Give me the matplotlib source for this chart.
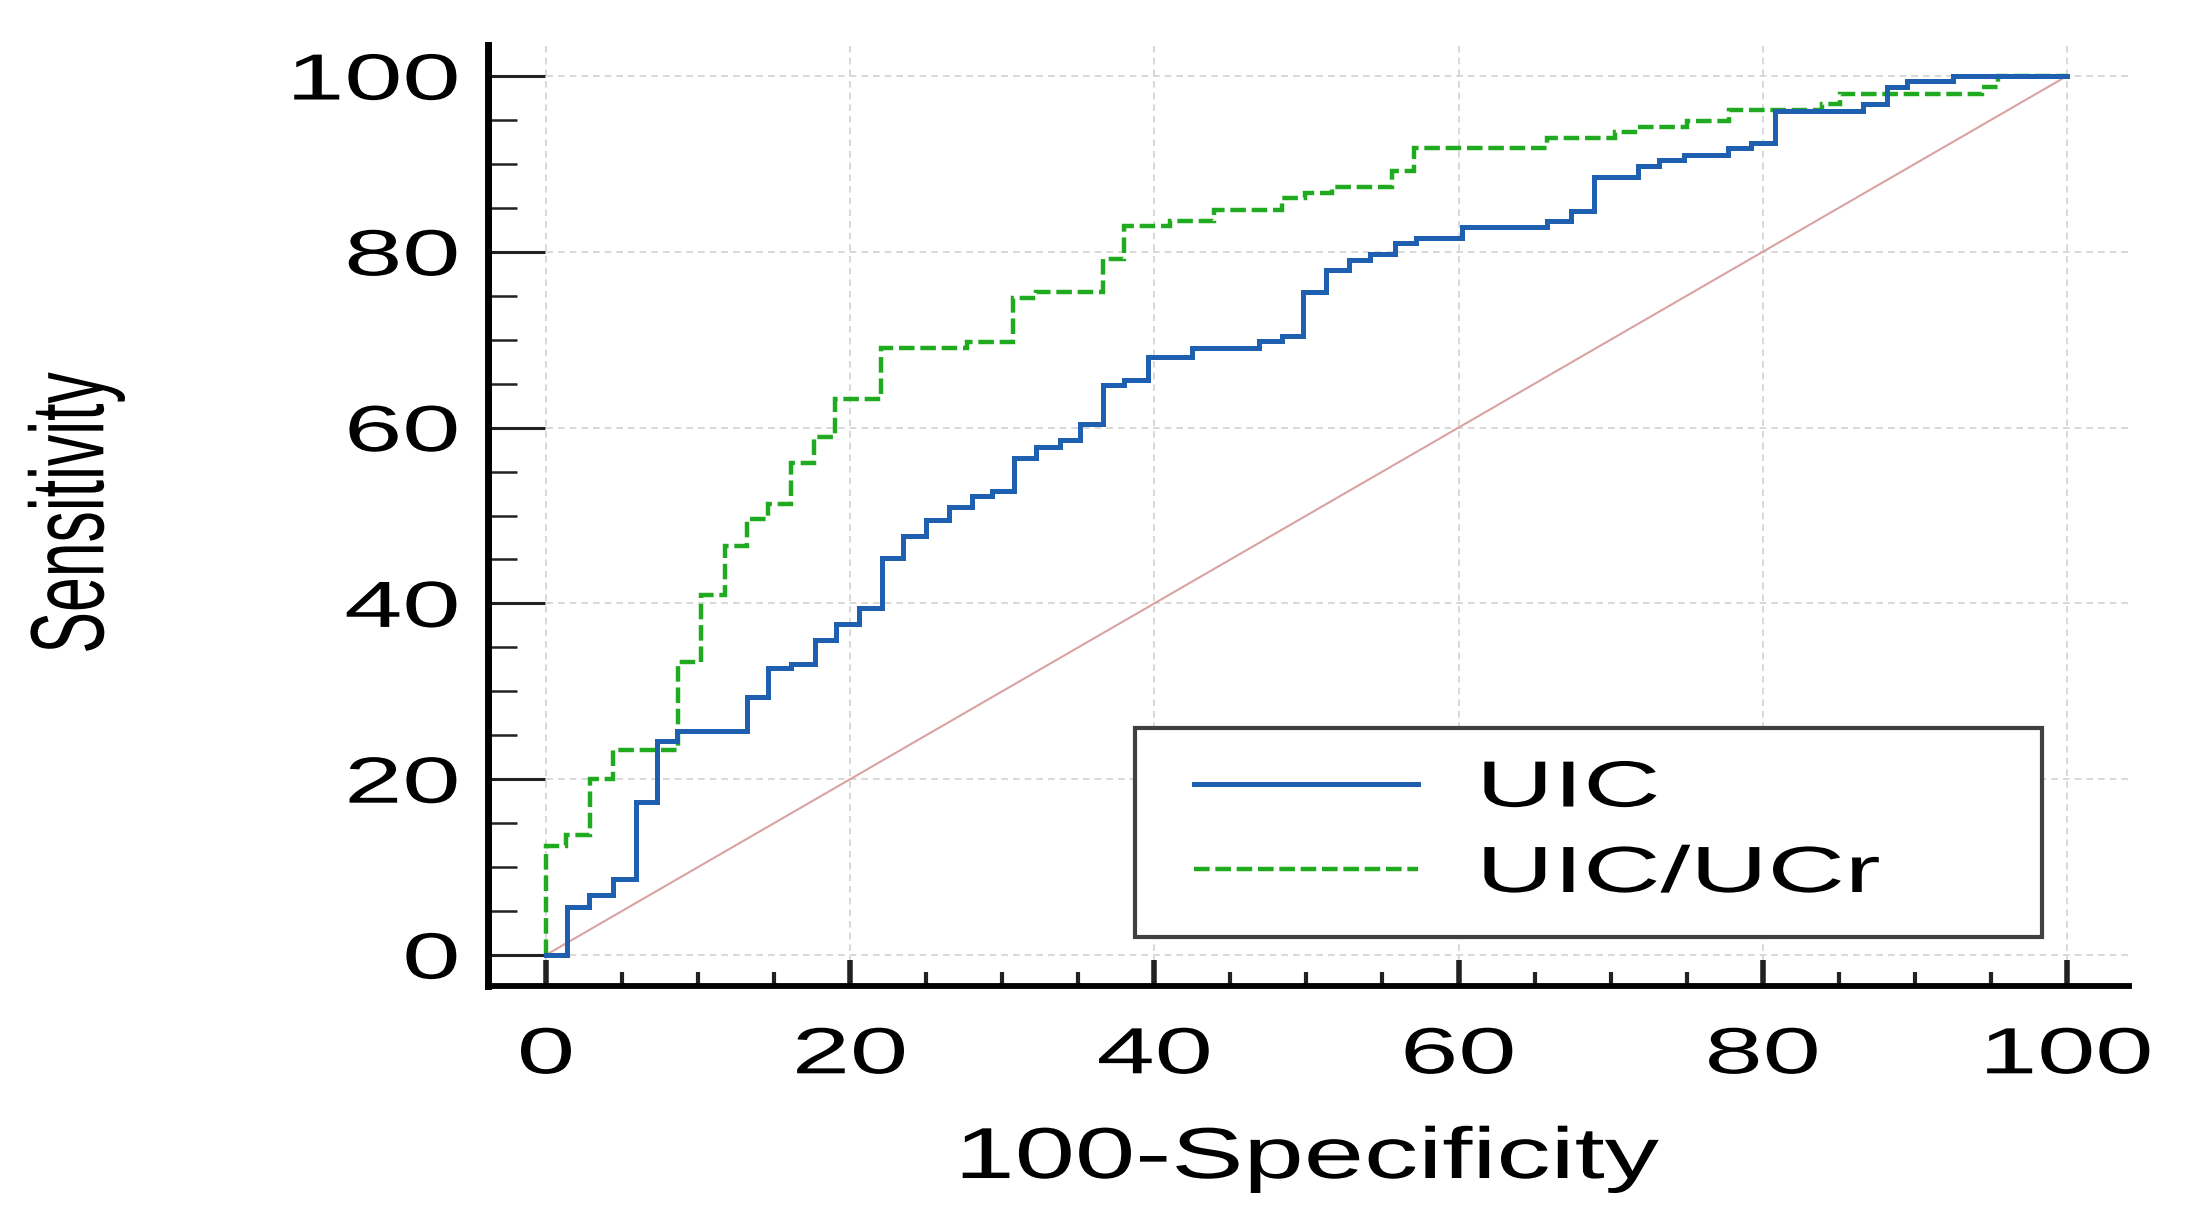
"""ROC 曲线：UIC 与 UIC/UCr 对比（横轴 100-Specificity，纵轴 Sensitivity）。"""
import matplotlib

matplotlib.use("Agg")
import matplotlib.pyplot as plt
from matplotlib.ticker import MultipleLocator
from matplotlib.patheffects import AbstractPathEffect
from matplotlib.transforms import Affine2D
from matplotlib.legend_handler import HandlerLine2D
from matplotlib.lines import Line2D

# ROC 拐点 (100-Specificity, Sensitivity)，阶梯按 post 连接
uic_x = [0, 1.4, 2.8, 4.4, 5.9, 7.3, 8.6, 13.2, 14.6, 16.1, 17.7, 19.1, 20.6, 22.1,
         23.5, 25.0, 26.5, 28.0, 29.3, 30.8, 32.2, 33.8, 35.1, 36.6, 38.0, 39.6,
         42.5, 46.9, 48.4, 49.8, 51.3, 52.8, 54.2, 55.8, 57.2, 60.2, 65.8, 67.4,
         68.9, 71.8, 73.2, 74.8, 77.7, 79.2, 80.8, 86.6, 88.2, 89.5, 92.5, 100]
uic_y = [0, 5.5, 6.8, 8.7, 17.4, 24.3, 25.5, 29.4, 32.6, 33.1, 35.8, 37.6, 39.5, 45.2,
         47.7, 49.5, 51.0, 52.2, 52.8, 56.5, 57.8, 58.6, 60.4, 64.8, 65.4, 68.0,
         69.1, 69.8, 70.4, 75.4, 77.9, 79.1, 79.8, 81.0, 81.6, 82.8, 83.5, 84.7,
         88.5, 89.8, 90.5, 91.0, 91.8, 92.4, 96.0, 96.8, 98.7, 99.4, 100, 100]

ratio_x = [0, 0, 1.3, 2.9, 4.4, 8.7, 10.2, 11.8, 13.2, 14.6, 16.1, 17.6, 19.0, 22.0,
           27.7, 30.7, 32.2, 36.6, 38.0, 41.0, 43.9, 48.4, 49.9, 51.7, 55.6, 57.1,
           65.8, 70.3, 71.8, 75.0, 77.8, 83.9, 85.1, 94.4, 95.5, 100]
ratio_y = [0, 12.4, 13.7, 20.0, 23.3, 33.3, 40.9, 46.5, 49.6, 51.3, 56.0, 58.9, 63.3,
           69.1, 69.7, 74.8, 75.4, 79.2, 82.9, 83.5, 84.8, 86.1, 86.7, 87.4, 89.2,
           91.8, 92.9, 93.6, 94.2, 94.9, 96.1, 96.8, 97.9, 98.7, 100, 100]

ref_x = [0, 100]
ref_y = [0, 100]
ticks = [0, 20, 40, 60, 80, 100]
labels = ["UIC", "UIC/UCr"]

W, H = 2186, 1219


class HStretch(AbstractPathEffect):
    """把文字路径沿水平方向拉宽（原图文字被横向拉伸过）。"""

    def __init__(self, sx, side="center"):
        super().__init__()
        self.sx = sx
        self.side = side

    def draw_path(self, renderer, gc, tpath, affine, rgbFace=None):
        box = tpath.get_extents(affine)
        if self.side == "left":
            x0 = box.x0
        elif self.side == "right":
            x0 = box.x1
        else:
            x0 = 0.5 * (box.x0 + box.x1)
        aff = affine + Affine2D().translate(-x0, 0).scale(self.sx, 1).translate(x0, 0)
        renderer.draw_path(gc, tpath, aff, rgbFace)


plt.rcParams["font.family"] = ["Liberation Sans", "DejaVu Sans"]

fig = plt.figure(figsize=(W / 100, H / 100), dpi=100)
# 轴框像素位置：左 488，右 2129，上 45，下 986
ax = fig.add_axes([488 / W, 1 - 986 / H, (2129 - 488) / W, (986 - 45) / H])

ax.plot(ref_x, ref_y, color="#d9a3a3", lw=1.5, zorder=2)
ax.step(ratio_x, ratio_y, where="post", color="#1faa1f", lw=3.2,
        ls=(0, (3.5, 1.3)), dash_joinstyle="miter", label=labels[1], zorder=3)
ax.step(uic_x, uic_y, where="post", color="#1e5faf", lw=3.6,
        solid_joinstyle="miter", label=labels[0], zorder=4)

ax.set_xlim(-3.81, 104.08)
ax.set_ylim(-3.53, 103.53)
ax.set_xticks(ticks)
ax.set_yticks(ticks)
ax.xaxis.set_minor_locator(MultipleLocator(5))
ax.yaxis.set_minor_locator(MultipleLocator(5))

ax.set_axisbelow(True)
ax.grid(True, which="major", color="#d2d2d2", ls=(0, (4, 3)), lw=1.2)

for s in ["top", "right"]:
    ax.spines[s].set_visible(False)
ax.spines["left"].set_linewidth(5)
ax.spines["bottom"].set_linewidth(4.2)

ax.tick_params(axis="y", which="major", direction="in", length=41, width=2.2,
               color="#222222", pad=21, labelsize=47)
ax.tick_params(axis="y", which="minor", direction="in", length=21, width=1.8,
               color="#222222")
ax.tick_params(axis="x", which="major", direction="in", length=19, width=4,
               color="#222222", pad=29, labelsize=47)
ax.tick_params(axis="x", which="minor", direction="in", length=10, width=3,
               color="#222222")

ax.set_xlabel("100-Specificity", fontsize=52)
ax.set_ylabel("Sensitivity", fontsize=45)
ax.xaxis.set_label_coords(0.5, -0.1488)
ax.yaxis.set_label_coords(-0.2212, 0.5027)

handles, labs = ax.get_legend_handles_labels()
order = [labs.index(l) for l in labels]
leg = ax.legend([handles[i] for i in order], [labs[i] for i in order],
                loc="lower left", bbox_to_anchor=(0.3943, 0.0521, 0.5527, 0.3),
                mode="expand", borderaxespad=0, fontsize=47,
                handlelength=3.84, handletextpad=0.945, borderpad=0.49,
                labelspacing=0.39, fancybox=False, framealpha=1,
                edgecolor="#404040", handler_map={Line2D: HandlerLine2D(xpad=0.42)})
leg.get_frame().set_linewidth(3)

# 文字横向拉宽，贴近原图观感
for t in ax.get_yticklabels():
    t.set_path_effects([HStretch(1.6, "right")])
for t in ax.get_xticklabels():
    t.set_path_effects([HStretch(1.6)])
ax.xaxis.label.set_path_effects([HStretch(1.5)])
ax.yaxis.label.set_path_effects([HStretch(1.67, "right")])
for t in leg.get_texts():
    t.set_path_effects([HStretch(1.64, "left")])

fig.savefig("out.png", dpi=100)
